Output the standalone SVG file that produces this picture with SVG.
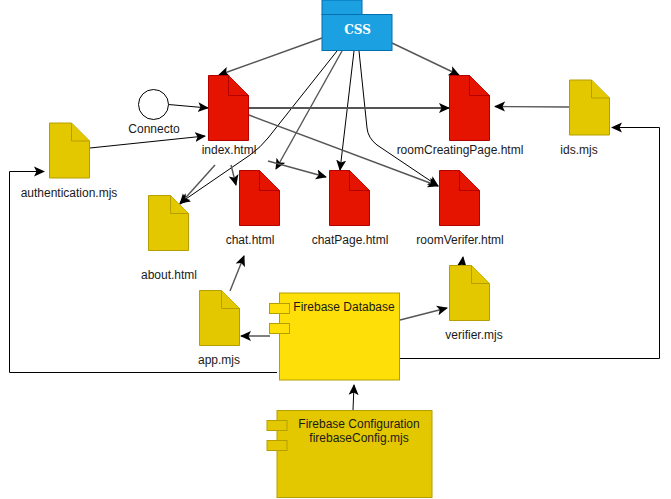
<svg xmlns="http://www.w3.org/2000/svg" width="671" height="499" viewBox="0 0 671 499">
<style>
text{font-family:"Liberation Sans",Arial,sans-serif;font-size:12px;fill:#1a1a1a;text-anchor:middle}
.red{fill:#e51400;stroke:#b20000;stroke-width:1}
.yel{fill:#e3c800;stroke:#b59e00;stroke-width:1}
.db{fill:#ffdf08;stroke:#b59e00;stroke-width:1}
.c{fill:none;stroke:#000;stroke-width:1;marker-end:url(#a)}
.g{fill:none;stroke:#555;stroke-width:1.400;marker-end:url(#a)}
</style>
<defs>
<marker id="a" markerUnits="userSpaceOnUse" markerWidth="13" markerHeight="12" refX="10" refY="5.500" orient="auto">
<path d="M0 0.500L11 5.500L0 10.500L2.500 5.500Z" fill="#000"/>
</marker>
</defs>
<rect width="671" height="499" fill="#fff"/>
<g id="connectors">
<path class="g" d="M322 38L219 75"/>
<path class="c" d="M168.500 104.500L208 108"/>
<path class="c" d="M90 148L205 136"/>
<path class="c" d="M337 51L268 138Q261 147 250 155L180 203"/>
<path class="g" d="M342 51L276 169"/>
<path class="c" d="M354 51L340 170"/>
<path class="c" d="M359 51L367 128Q368 138 377 145L438 186"/>
<path class="g" d="M392 43L459 75"/>
<path class="g" style="stroke-width:1.800" d="M248 108L449 108"/>
<path class="g" d="M249 115L438 186"/>
<path class="g" d="M569 107L495 106.500"/>
<path class="g" d="M231 165L236 185"/>
<path class="g" d="M215 165L180 204"/>
<path class="g" d="M268 161L326 177"/>
<path class="g" d="M230 291L244 256"/>
<path class="c" d="M270 336L241 336"/>
<path class="g" d="M400 320L447 308"/>
<path class="g" d="M462 265L463 257"/>
<path class="c" d="M353 410L354 385"/>
<path class="c" d="M399 358.500H659.500V127.500H612"/>
<path class="c" d="M277 372.500H9.500V171.500H44"/>
</g>
<g id="css">
<rect x="322" y="0" width="40" height="14.500" fill="#1ba1e2" stroke="#006eaf"/>
<rect x="322" y="14.500" width="70" height="36" fill="#1ba1e2" stroke="#006eaf"/>
<text x="357.500" y="34" style="font-family:'DejaVu Serif',serif;font-weight:bold;font-size:12px;fill:#fff">CSS</text>
</g>
<g id="connector-node">
<circle cx="153.500" cy="104.500" r="15" fill="#fff" stroke="#000"/>
<text x="154" y="133">Connecto</text>
</g>
<g id="index">
<path class="red" d="M208.500 75.500H228.500L248.500 95.500V140.500H208.500Z"/>
<path class="red" d="M228.500 75.500V95.500H248.500"/>
<text x="229" y="154">index.html</text>
</g>
<g id="roomCreatingPage">
<path class="red" d="M449.500 75.500H469.500L489.500 95.500V140.500H449.500Z"/>
<path class="red" d="M469.500 75.500V95.500H489.500"/>
<text x="460" y="154">roomCreatingPage.html</text>
</g>
<g id="ids">
<path class="yel" d="M569.500 80H591.500L609.500 98V135H569.500Z"/>
<path class="yel" d="M591.500 80V98H609.500"/>
<text x="579" y="154">ids.mjs</text>
</g>
<g id="authentication">
<path class="yel" d="M49.500 123H71.500L89.500 141V178H49.500Z"/>
<path class="yel" d="M71.500 123V141H89.500"/>
<text x="69" y="197">authentication.mjs</text>
</g>
<g id="about">
<path class="yel" d="M148.500 195.500H170.500L188.500 213.500V250.500H148.500Z"/>
<path class="yel" d="M170.500 195.500V213.500H188.500"/>
<text x="169" y="279">about.html</text>
</g>
<g id="chat">
<path class="red" d="M239.500 170.500H259.500L279.500 190.500V225.500H239.500Z"/>
<path class="red" d="M259.500 170.500V190.500H279.500"/>
<text x="250" y="244">chat.html</text>
</g>
<g id="chatPage">
<path class="red" d="M329.500 170.500H349.500L369.500 190.500V225.500H329.500Z"/>
<path class="red" d="M349.500 170.500V190.500H369.500"/>
<text x="350" y="244">chatPage.html</text>
</g>
<g id="roomVerifer">
<path class="red" d="M439.500 170.500H459.500L479.500 190.500V225.500H439.500Z"/>
<path class="red" d="M459.500 170.500V190.500H479.500"/>
<text x="460" y="244">roomVerifer.html</text>
</g>
<g id="app">
<path class="yel" d="M199.500 290.500H221.500L239.500 308.500V345.500H199.500Z"/>
<path class="yel" d="M221.500 290.500V308.500H239.500"/>
<text x="219" y="364">app.mjs</text>
</g>
<g id="verifier">
<path class="yel" d="M449.500 265.500H471.500L489.500 283.500V320.500H449.500Z"/>
<path class="yel" d="M471.500 265.500V283.500H489.500"/>
<text x="474" y="339">verifier.mjs</text>
</g>
<g id="firebase-database">
<rect class="db" x="279.500" y="293" width="120" height="87"/>
<rect class="db" x="269.500" y="303.500" width="20" height="10"/>
<rect class="db" x="269.500" y="323.500" width="20" height="10"/>
<text x="344" y="311">Firebase Database</text>
</g>
<g id="firebase-configuration">
<rect class="yel" x="277" y="410.500" width="155" height="87"/>
<rect class="yel" x="267" y="420.500" width="20" height="10"/>
<rect class="yel" x="267" y="440.500" width="20" height="10"/>
<text x="359" y="428">Firebase Configuration</text>
<text x="359" y="442">firebaseConfig.mjs</text>
</g>
</svg>
